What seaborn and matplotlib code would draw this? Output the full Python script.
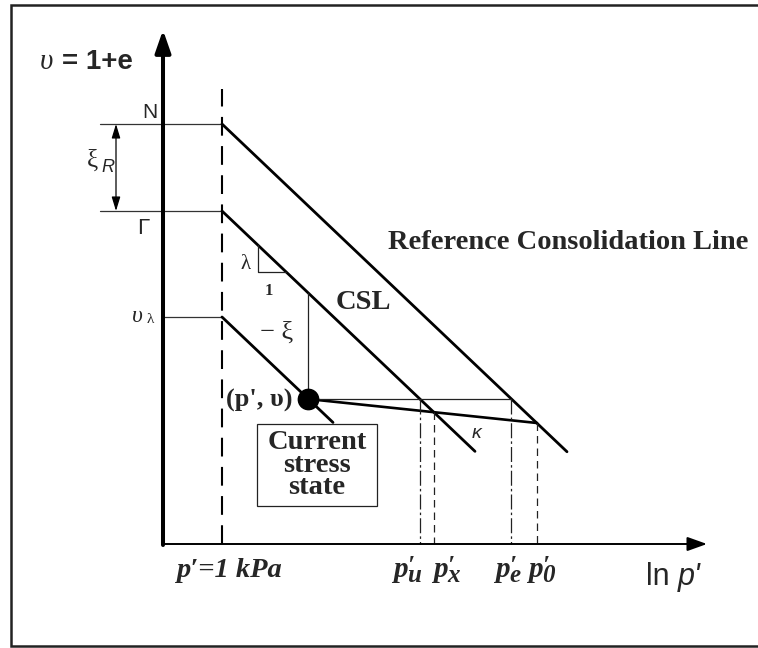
import matplotlib
matplotlib.use("Agg")
import matplotlib.pyplot as plt
from matplotlib.patches import Rectangle
import numpy as np
import pandas as pd
import seaborn as sns

sns.set_theme(style="white")
plt.rcParams["font.family"] = ["Liberation Serif", "DejaVu Serif"]

# --- Model lines in the (ln p', v) plane: v = intercept - lambda * ln p'
line_names = ["Reference Consolidation Line", "CSL", "v_lambda"]
line_intercepts = [5.40, 4.53, 3.47]      # N, Gamma, v_lambda at p' = 1 kPa
line_end_lnp = [3.45, 2.53, 1.11]
lam = 0.95

intercept_labels = ["N", "Γ"]

# Current stress state and the unloading (kappa) line
current_lnp = 0.86
current_v = 2.65
kappa_end_lnp = 3.15
kappa_end_v = 2.41

# Characteristic pressures on the ln p' axis
tick_subscripts = ["u", "x", "e", "0"]
tick_lnp = [1.98, 2.12, 2.89, 3.15]
tick_top_v = [2.65, 2.52, 2.65, 2.41]
tick_dashed = [False, True, False, True]

# Axes frame of the sketch
axis_lnp = -0.59
axis_v = 1.2
axis_lnp_max = 4.85
axis_v_max = 6.34
ref_lnp = 0.0                 # p' = 1 kPa
ref_line_top = 5.75

fig = plt.figure(figsize=(7.58, 6.48), dpi=100)
ax = fig.add_axes([0, 0, 1, 1])
ax.set_xlim(-2.22, 5.36)
ax.set_ylim(0.16, 6.64)
ax.axis("off")

# outer frame
ax.plot([5.5, -2.11, -2.11, 5.5], [6.59, 6.59, 0.18, 0.18], color="#222222",
        lw=1.8, clip_on=False, solid_joinstyle="miter")

# axes with arrow heads
ax.annotate("", xy=(axis_lnp, axis_v_max), xytext=(axis_lnp, axis_v - 0.01),
            arrowprops=dict(arrowstyle="-|>,head_length=13.5,head_width=4.7",
                            mutation_scale=1, lw=2.9, color="black",
                            shrinkA=0, shrinkB=0))
ax.annotate("", xy=(axis_lnp_max, axis_v), xytext=(axis_lnp - 0.01, axis_v),
            arrowprops=dict(arrowstyle="-|>,head_length=12,head_width=4.3",
                            mutation_scale=1, lw=1.4, color="black",
                            shrinkA=0, shrinkB=0))

# p' = 1 kPa reference line
ax.plot([ref_lnp, ref_lnp], [axis_v, ref_line_top], color="black", lw=1.5,
        dashes=(9, 5))

# horizontal guides to the intercepts
ax.plot([-1.22, ref_lnp], [line_intercepts[0]] * 2, color="#333333", lw=0.9)
ax.plot([-1.22, ref_lnp], [line_intercepts[1]] * 2, color="#333333", lw=0.9)
ax.plot([axis_lnp, ref_lnp], [line_intercepts[2]] * 2, color="#333333", lw=0.9)

# the three parallel lines
rows = []
for name, c, xe in zip(line_names, line_intercepts, line_end_lnp):
    for x in (0.0, xe):
        rows.append({"line": name, "lnp": x, "v": c - lam * x})
lines_df = pd.DataFrame(rows)
sns.lineplot(data=lines_df, x="lnp", y="v", units="line", estimator=None,
             sort=False, color="black", lw=2.0, ax=ax, legend=False)

# kappa line
kappa_df = pd.DataFrame({"lnp": [current_lnp, kappa_end_lnp],
                         "v": [current_v, kappa_end_v]})
sns.lineplot(data=kappa_df, x="lnp", y="v", estimator=None, sort=False,
             color="black", lw=1.9, ax=ax)

# horizontal through the current state to the reference line
ax.plot([current_lnp, tick_lnp[2]], [current_v, current_v], color="#222222", lw=0.9)
# vertical from the current state up to the CSL (-xi)
csl_v_here = line_intercepts[1] - lam * current_lnp
ax.plot([current_lnp, current_lnp], [current_v, csl_v_here], color="#222222", lw=0.9)

# slope triangle on the CSL
tri_x0, tri_x1 = 0.36, 0.64
tri_v0 = line_intercepts[1] - lam * tri_x0
tri_v1 = line_intercepts[1] - lam * tri_x1
ax.plot([tri_x0, tri_x0, tri_x1], [tri_v0, tri_v1, tri_v1], color="#222222", lw=0.9)

# projections to the ln p' axis
for x, vt, dashed in zip(tick_lnp, tick_top_v, tick_dashed):
    if dashed:
        ax.plot([x, x], [vt, axis_v], color="#222222", lw=0.9, dashes=(6, 4))
    else:
        ax.plot([x, x], [vt, axis_v], color="#222222", lw=0.9,
                dashes=(12, 2.5, 2, 2.5))

# xi_R double arrow
ax.annotate("", xy=(-1.06, line_intercepts[0]), xytext=(-1.06, line_intercepts[1]),
            arrowprops=dict(arrowstyle="<|-|>,head_length=8.5,head_width=2.6",
                            mutation_scale=1, lw=0.9, color="black",
                            shrinkA=0, shrinkB=0))

# current stress state point
pt_df = pd.DataFrame({"lnp": [current_lnp], "v": [current_v]})
sns.scatterplot(data=pt_df, x="lnp", y="v", s=210, color="black",
                edgecolor="black", zorder=5, ax=ax, legend=False)

# --- text
sans = ["Liberation Sans", "DejaVu Sans"]
serif = ["Liberation Serif", "DejaVu Serif"]

ax.text(-1.82, 6.02, "υ", family=serif, style="italic", fontsize=21,
        ha="left", va="center")
ax.text(-1.60, 6.02, "= 1+e", family=sans, weight="bold", fontsize=20,
        ha="left", va="center")

ax.text(-0.72, 5.51, intercept_labels[0], family=sans, fontsize=15,
        ha="center", va="center")
ax.text(-0.79, 4.35, intercept_labels[1], family=sans, fontsize=16,
        ha="center", va="center")
ax.text(-0.79, 3.47, "υ", family=serif, style="italic", fontsize=17,
        ha="right", va="center")
ax.text(-0.75, 3.44, "λ", family=serif, fontsize=11, ha="left", va="center")

ax.text(-1.30, 5.03, "ξ", family=serif, fontsize=18, ha="center", va="center")
ax.text(-1.14, 4.96, "R", family=sans, style="italic", fontsize=13,
        ha="center", va="center")

ax.text(0.24, 3.99, "λ", family=serif, fontsize=15, ha="center", va="center")
ax.text(0.47, 3.73, "1", family=serif, weight="bold", fontsize=12,
        ha="center", va="center")
ax.text(0.55, 3.31, "− ξ", family=serif, fontsize=19, ha="center", va="center")

ax.text(1.41, 3.61, line_names[1], family=serif, weight="bold", fontsize=20.5,
        ha="center", va="center")
ax.text(3.46, 4.21, line_names[0], family=serif, weight="bold", fontsize=20.5,
        ha="center", va="center")

ax.text(0.71, 2.64, "(p', υ)", family=serif, weight="bold", fontsize=19,
        ha="right", va="center")
ax.text(2.55, 2.31, "κ", family=sans, style="italic", fontsize=14,
        ha="center", va="center")

# boxed note under the current state
ax.add_patch(Rectangle((0.35, 1.58), 1.20, 0.82, fc="white", ec="#222222",
                       lw=0.9, zorder=3))
ax.text(0.95, 1.99, "Current\nstress\nstate", family=serif, weight="bold",
        fontsize=20.5, ha="center", va="center", linespacing=0.85, zorder=4)

# tick labels on the ln p' axis
label_baseline = 0.87
ax.text(-0.46, label_baseline, "p′=1 kPa", family=serif, weight="bold",
        style="italic", fontsize=20.5, ha="left", va="baseline")
tick_label_left = [1.71, 2.11, 2.73, 3.06]
for sub, x in zip(tick_subscripts, tick_label_left):
    ax.text(x, label_baseline, "p", family=serif, weight="bold", style="italic",
            fontsize=21, ha="left", va="baseline")
    # prime stacked above the subscript
    ax.text(x + 0.145, 0.775, "′\n" + sub, family=serif,
            weight="bold", style="italic", fontsize=18, ha="left", va="bottom",
            linespacing=0.22)

ax.text(4.56, 0.79, "ln ", family=sans, fontsize=22, ha="right", va="baseline")
ax.text(4.56, 0.79, "p'", family=sans, style="italic", fontsize=22,
        ha="left", va="baseline")

fig.savefig("out.png", dpi=100)
